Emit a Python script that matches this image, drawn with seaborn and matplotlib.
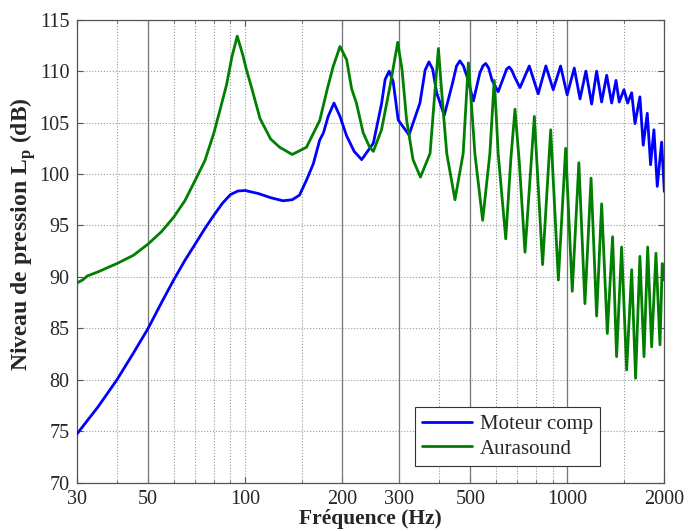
import numpy as np
import pandas as pd
import seaborn as sns
import matplotlib.pyplot as plt
from matplotlib.ticker import FixedLocator, NullFormatter

# values
moteur_freq = [30, 35, 40, 45, 50, 55, 60, 65, 70, 75, 80, 85, 90, 95, 100,
               110, 120, 131, 140, 147.5, 155, 162.8, 170.4, 175, 181, 188.7,
               197, 206.6, 218, 230, 250, 265, 272, 280, 288, 298.6, 322.6,
               348.8, 362, 372, 382, 393, 415, 440, 453, 464, 476, 488, 511,
               535, 547, 558, 570, 584, 610, 636, 648, 660, 672, 687,
               713, 762, 812, 858, 904, 953, 999, 1051, 1095, 1142, 1190, 1233,
               1278, 1325, 1373, 1416, 1449, 1499, 1539, 1584, 1622, 1680, 1720,
               1771, 1813, 1857, 1902, 1962, 2000]
moteur_db = [74.7, 77.4, 80.0, 82.6, 85.0, 87.5, 89.7, 91.6, 93.2, 94.7, 96.0,
             97.15, 98.0, 98.35, 98.4, 98.1, 97.7, 97.4, 97.5, 97.95, 99.4,
             101.0, 103.3, 104.0, 105.6, 106.9, 105.6, 103.7, 102.2, 101.4,
             103.0, 106.8, 109.2, 110.0, 109.0, 105.25, 103.8,
             106.9, 110.1, 110.9, 110.2, 107.9, 105.7, 108.8, 110.5, 111.0,
             110.5, 109.5, 107.1,
             109.8, 110.5, 110.75, 110.3, 109.1, 108.0, 109.5, 110.2, 110.4,
             110.1, 109.4,
             108.4, 110.5, 107.8, 110.5, 108.2, 110.5, 107.7,
             110.3, 107.3, 110.0, 106.8, 110.0, 107.0, 109.6, 106.9, 109.1,
             107.0, 108.2, 106.9, 107.9, 104.9, 107.5, 102.8, 105.9, 100.9,
             104.3, 98.8, 103.1, 98.3]

aura_freq = [30, 31.3, 32.4, 35, 40, 45, 50, 55, 60, 65, 70, 75, 80, 84, 87.6,
             91, 94.5, 98.3, 101, 104.5, 111.2, 120, 128, 140, 155, 170.4, 180,
             187.4, 197, 206.6, 214, 221.5, 232.5, 243.5, 250, 265, 281.5,
             297.6, 307, 317, 332, 350, 375, 387, 398, 410, 422.5, 448, 475,
             493, 505, 516.5, 546, 575, 593, 602, 610, 644, 668, 688, 710, 739,
             790, 838, 888, 938, 988, 1036, 1086, 1134, 1185, 1233, 1278, 1331,
             1382, 1422, 1474, 1528, 1584, 1629, 1680, 1730, 1776, 1827, 1884,
             1939, 1971, 2000]
aura_db = [89.4, 89.7, 90.1, 90.5, 91.3, 92.1, 93.2, 94.4, 95.8, 97.4, 99.4,
           101.3, 104.0, 106.5, 108.7, 111.4, 113.4, 111.6, 110.1, 108.5, 105.4,
           103.4, 102.6, 101.9, 102.6, 105.2, 108.3, 110.4, 112.4, 111.1, 108.3,
           106.9, 104.0, 102.6, 102.2, 104.3, 108.5, 112.8, 110.1, 105.3, 101.4,
           99.7, 102.0, 107.5, 112.2, 106.9, 102.0, 97.5, 102.0, 110.8, 106.4,
           102.0, 95.5, 102.0, 109.1, 105.6, 102.0, 93.7, 101.5, 106.3, 101.0,
           92.4, 105.6, 91.2, 104.3, 89.7, 102.5, 88.6, 101.1, 87.4, 99.6, 86.2,
           97.1, 84.5, 93.9, 82.25, 92.9, 80.95, 90.7, 80.15, 92.0, 82.25, 92.9,
           83.2, 92.3, 83.4, 91.3, 89.7]

series_names = ["Moteur comp", "Aurasound"]
series_colors = ["#0000ff", "#007f00"]

x_ticks = [30, 50, 100, 200, 300, 500, 1000, 2000]
x_minor = [40, 60, 70, 80, 90, 150, 400, 600, 700, 800, 900, 1500]
solid_lines = [50, 200, 300, 500, 1000]
y_ticks = list(range(70, 116, 5))

df = pd.concat([
    pd.DataFrame({"f": moteur_freq, "db": moteur_db, "serie": series_names[0]}),
    pd.DataFrame({"f": aura_freq, "db": aura_db, "serie": series_names[1]}),
])

sns.set_style("ticks")
plt.rcParams["font.family"] = ["Liberation Serif", "DejaVu Serif"]
plt.rcParams["mathtext.fontset"] = "custom"
plt.rcParams["mathtext.rm"] = "Liberation Serif:bold"

fig = plt.figure(figsize=(6.84, 5.31), dpi=100)
ax = fig.add_axes([0.1121, 0.0910, 0.8591, 0.8719])

for x in solid_lines:
    ax.axvline(x, color="#777777", lw=0.9, zorder=1)

sns.lineplot(data=df, x="f", y="db", hue="serie", palette=series_colors,
             estimator=None, sort=False, lw=2.0, ax=ax, zorder=3)

ax.set_xscale("log")
ax.set_xlim(30, 2000)
ax.set_ylim(70, 115)
ax.xaxis.set_major_locator(FixedLocator(x_ticks))
ax.xaxis.set_minor_locator(FixedLocator(x_minor))
ax.xaxis.set_minor_formatter(NullFormatter())
ax.set_xticklabels([str(t) for t in x_ticks])
ax.set_yticks(y_ticks)

ax.grid(which="both", axis="both", ls=":", color="#999999", lw=0.8, zorder=0)
ax.tick_params(which="both", direction="in", top=True, right=True,
               labelsize=14.5, color="#555555", pad=5)
ax.tick_params(which="major", length=4)
ax.tick_params(which="minor", length=2)
for s in ax.spines.values():
    s.set_color("#555555")
    s.set_linewidth(0.9)

ax.set_xlabel("Fréquence (Hz)", fontsize=15.5, fontweight="bold", labelpad=0)
ax.set_ylabel("Niveau de pression L$_\\mathrm{p}$ (dB)", fontsize=17,
              fontweight="bold")
ax.yaxis.set_label_coords(-0.066, 0.537)

leg = ax.legend(loc="lower left", bbox_to_anchor=(0.5757, 0.036), fontsize=15,
                fancybox=False, framealpha=1, edgecolor="#333333",
                handlelength=2.4, borderpad=0.35, labelspacing=0.25,
                handletextpad=0.35, borderaxespad=0)
leg.get_frame().set_linewidth(0.8)

fig.savefig("out.png", dpi=100)
